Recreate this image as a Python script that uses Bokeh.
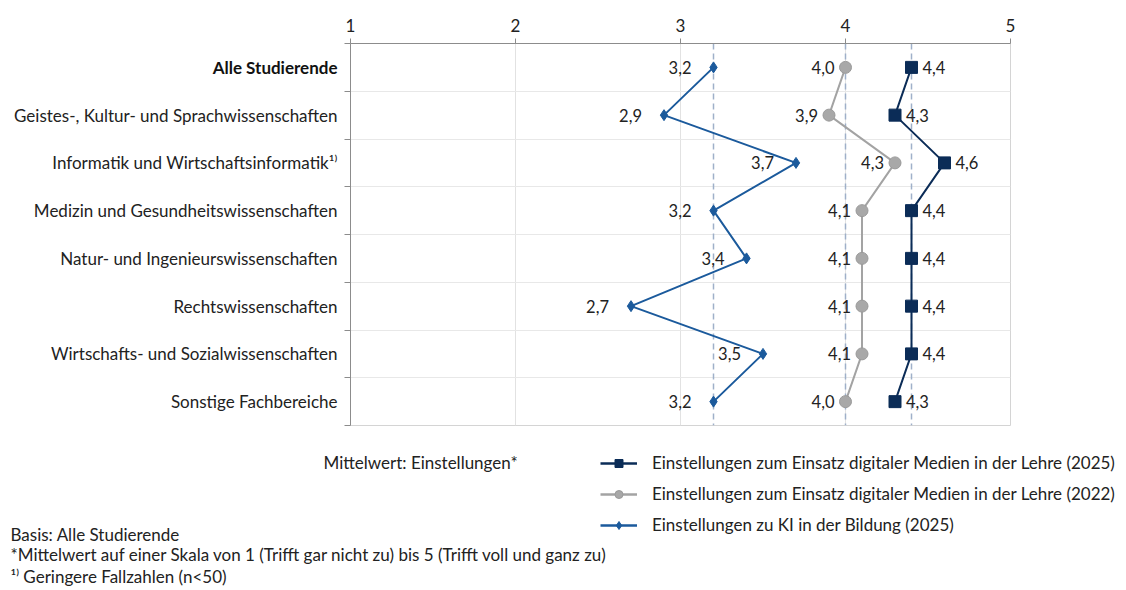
from bokeh.plotting import figure
from bokeh.models import (Range1d, FixedTicker, Span, Legend, LegendItem,
                          ColumnDataSource)
from bokeh.layouts import column, row
from bokeh.core.properties import value
from bokeh.embed import file_html
from bokeh.resources import INLINE

categories = [
    "Alle Studierende",
    "Geistes-, Kultur- und Sprachwissenschaften",
    "Informatik und Wirtschaftsinformatik¹⁾",
    "Medizin und Gesundheitswissenschaften",
    "Natur- und Ingenieurswissenschaften",
    "Rechtswissenschaften",
    "Wirtschafts- und Sozialwissenschaften",
    "Sonstige Fachbereiche",
]
medien_2025 = [4.4, 4.3, 4.6, 4.4, 4.4, 4.4, 4.4, 4.3]
medien_2022 = [4.0, 3.9, 4.3, 4.1, 4.1, 4.1, 4.1, 4.0]
ki_2025 = [3.2, 2.9, 3.7, 3.2, 3.4, 2.7, 3.5, 3.2]
x_ticks = [1, 2, 3, 4, 5]
series_names = [
    "Einstellungen zum Einsatz digitaler Medien in der Lehre (2025)",
    "Einstellungen zum Einsatz digitaler Medien in der Lehre (2022)",
    "Einstellungen zu KI in der Bildung (2025)",
]
notes = [
    "Basis: Alle Studierende",
    "*Mittelwert auf einer Skala von 1 (Trifft gar nicht zu) bis 5 (Trifft voll und ganz zu)",
    "¹⁾ Geringere Fallzahlen (n<50)",
]
axis_caption = "Mittelwert: Einstellungen*"

FONT = "Lato"
TXT = "#222222"
NAVY = "#0b2c57"
GRAY = "#a3a3a3"
BLUE = "#1b5a9c"
FS = "17px"

n = len(categories)
rows = list(range(n))
yr = Range1d(n - 0.5, -0.5)

# ---------------- main chart ----------------
p = figure(width=766, height=428, output_backend="svg", toolbar_location=None,
           x_axis_location="above", x_range=Range1d(1, 5), y_range=yr,
           min_border_left=6, min_border_right=100, min_border_top=43,
           min_border_bottom=3)
p.outline_line_color = "#d4d4d4"

xa = p.xaxis[0]
xa.ticker = FixedTicker(ticks=x_ticks)
xa.axis_line_color = "#8c8c8c"
xa.major_tick_line_color = "#8c8c8c"
xa.major_tick_out = 5
xa.major_tick_in = 0
xa.minor_tick_line_color = None
xa.major_label_text_font = FONT
xa.major_label_text_font_size = "17px"
xa.major_label_text_color = TXT
xa.major_label_standoff = 7

ya = p.yaxis[0]
ya.ticker = FixedTicker(ticks=[], minor_ticks=[r - 0.5 for r in rows] + [n - 0.5])
ya.axis_line_color = "#8c8c8c"
ya.major_tick_line_color = None
ya.major_tick_out = 0
ya.major_tick_in = 0
ya.minor_tick_line_color = "#8c8c8c"
ya.minor_tick_out = 6
ya.minor_tick_in = 0
ya.major_label_standoff = 0

p.xgrid.ticker = FixedTicker(ticks=x_ticks[1:-1])
p.xgrid.grid_line_color = "#e2e2e2"
p.ygrid.ticker = FixedTicker(ticks=[r + 0.5 for r in rows[:-1]])
p.ygrid.grid_line_color = "#e8e8e8"

for v in (ki_2025[0], medien_2022[0], medien_2025[0]):
    p.add_layout(Span(location=v, dimension="height", line_color="#9fb0c9",
                      line_width=1.5, line_dash="6 4", level="underlay"))

def fmt(v):
    return f"{v:.1f}".replace(".", ",")

src25 = ColumnDataSource(dict(x=medien_2025, y=rows, t=[fmt(v) for v in medien_2025]))
src22 = ColumnDataSource(dict(x=medien_2022, y=rows, t=[fmt(v) for v in medien_2022]))
srcki = ColumnDataSource(dict(x=ki_2025, y=rows, t=[fmt(v) for v in ki_2025]))

p.line("x", "y", source=src25, line_color=NAVY, line_width=2)
p.line("x", "y", source=src22, line_color=GRAY, line_width=2)
p.line("x", "y", source=srcki, line_color=BLUE, line_width=2)
p.scatter("x", "y", source=src25, marker="square", size=12,
          fill_color=NAVY, line_color=NAVY)
p.scatter("x", "y", source=src22, marker="circle", size=12,
          fill_color="#a8a8a8", line_color="#9a9a9a")
p.scatter("x", "y", source=srcki, marker="diamond", size=11,
          fill_color=BLUE, line_color=BLUE)

common = dict(text_baseline="middle", text_font=value(FONT), text_font_size="16.5px",
              text_color=TXT)
p.text("x", "y", text="t", source=src25, x_offset=11, text_align="left", **common)
p.text("x", "y", text="t", source=src22, x_offset=-11, text_align="right", **common)
p.text("x", "y", text="t", source=srcki, x_offset=-22, text_align="right", **common)

# ---------------- category labels ----------------
lab = figure(width=344, height=428, output_backend="svg", toolbar_location=None,
             x_range=Range1d(0, 1), y_range=yr, x_axis_type=None, y_axis_type=None,
             min_border_left=0, min_border_right=0, min_border_top=43,
             min_border_bottom=3)
lab.outline_line_color = None
lab.text(x=[1], y=[0], text=[categories[0]], x_offset=-7, text_align="right",
         text_baseline="middle", text_font=value(FONT), text_font_size=FS,
         text_font_style="bold", text_color="#111111")
lab.text(x=[1] * (n - 1), y=rows[1:], text=categories[1:], x_offset=-7,
         text_align="right", text_baseline="middle", text_font=value(FONT),
         text_font_size=FS, text_color=TXT)

# ---------------- legend & notes ----------------
W2 = 1124
H2 = 161
bot = figure(width=W2, height=H2, output_backend="svg", toolbar_location=None,
             x_range=Range1d(0, W2), y_range=Range1d(H2, 0),
             x_axis_type=None, y_axis_type=None,
             min_border_left=0, min_border_right=0, min_border_top=0,
             min_border_bottom=0)
bot.outline_line_color = None
note_style = dict(text_baseline="middle", text_align="left", text_font=value(FONT),
                  text_font_size="17px", text_color=TXT)
bot.text(x=[323], y=[34], text=[axis_caption], **note_style)
bot.text(x=[10, 10, 10], y=[106, 126, 148], text=notes, **note_style)

nan = float("nan")
r = []
for col, mk, sz, fc, lc in ((NAVY, "square", 12, NAVY, NAVY),
                            (GRAY, "circle", 12, "#a8a8a8", "#9a9a9a"),
                            (BLUE, "diamond", 13, BLUE, BLUE)):
    ln = bot.line(x=[nan, nan], y=[nan, nan], line_color=col, line_width=2.5)
    sc = bot.scatter(x=[nan], y=[nan], marker=mk, size=sz, fill_color=fc, line_color=lc)
    r.append([ln, sc])

legend = Legend(items=[LegendItem(label=s, renderers=rr) for s, rr in zip(series_names, r)],
                location=(600, H2 - 107), orientation="vertical")
legend.border_line_color = None
legend.background_fill_alpha = 0
legend.padding = 0
legend.margin = 0
legend.spacing = 10
legend.glyph_width = 37
legend.glyph_height = 20
legend.label_height = 20
legend.label_standoff = 15
legend.label_text_font = FONT
legend.label_text_font_size = "17px"
legend.label_text_color = TXT
legend.label_text_baseline = "middle"
bot.add_layout(legend, "center")

layout = column(row(lab, p), bot)
open("out.html", "w").write(file_html(layout, INLINE))
